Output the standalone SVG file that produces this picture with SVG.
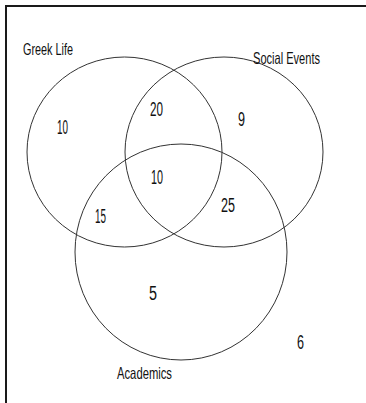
<svg xmlns="http://www.w3.org/2000/svg" width="366" height="403" viewBox="0 0 366 403">
<style>
.frame{fill:none;stroke:#1a1a1a;stroke-width:2}
.set{fill:none;stroke:#333;stroke-width:1}
text{font-family:"Liberation Sans",Arial,sans-serif;font-size:20px;fill:#111}
.lbl{font-size:16.5px}
</style>
<rect width="366" height="403" fill="#fff"/>
<g id="frame"><path class="frame" d="M6,403 V6 H366"/></g>
<g id="greek-life">
<ellipse class="set" cx="124.5" cy="152" rx="97.5" ry="95"/>
<text class="lbl" x="23" y="55" textLength="50" lengthAdjust="spacingAndGlyphs">Greek Life</text>
</g>
<g id="social-events">
<ellipse class="set" cx="224" cy="152" rx="99" ry="95"/>
<text class="lbl" x="253" y="64" textLength="67" lengthAdjust="spacingAndGlyphs">Social Events</text>
</g>
<g id="academics">
<ellipse class="set" cx="181" cy="252" rx="106" ry="108"/>
<text class="lbl" x="117" y="379" textLength="55" lengthAdjust="spacingAndGlyphs">Academics</text>
</g>
<g id="counts">
<text x="57" y="134" textLength="11" lengthAdjust="spacingAndGlyphs">10</text>
<text x="150" y="116" textLength="13" lengthAdjust="spacingAndGlyphs">20</text>
<text x="238" y="126" textLength="7" lengthAdjust="spacingAndGlyphs">9</text>
<text x="151" y="184" textLength="12" lengthAdjust="spacingAndGlyphs">10</text>
<text x="95" y="223" textLength="11" lengthAdjust="spacingAndGlyphs">15</text>
<text x="221" y="212" textLength="14" lengthAdjust="spacingAndGlyphs">25</text>
<text x="149" y="300" textLength="8" lengthAdjust="spacingAndGlyphs">5</text>
<text x="297" y="349" textLength="7" lengthAdjust="spacingAndGlyphs">6</text>
</g>
</svg>
